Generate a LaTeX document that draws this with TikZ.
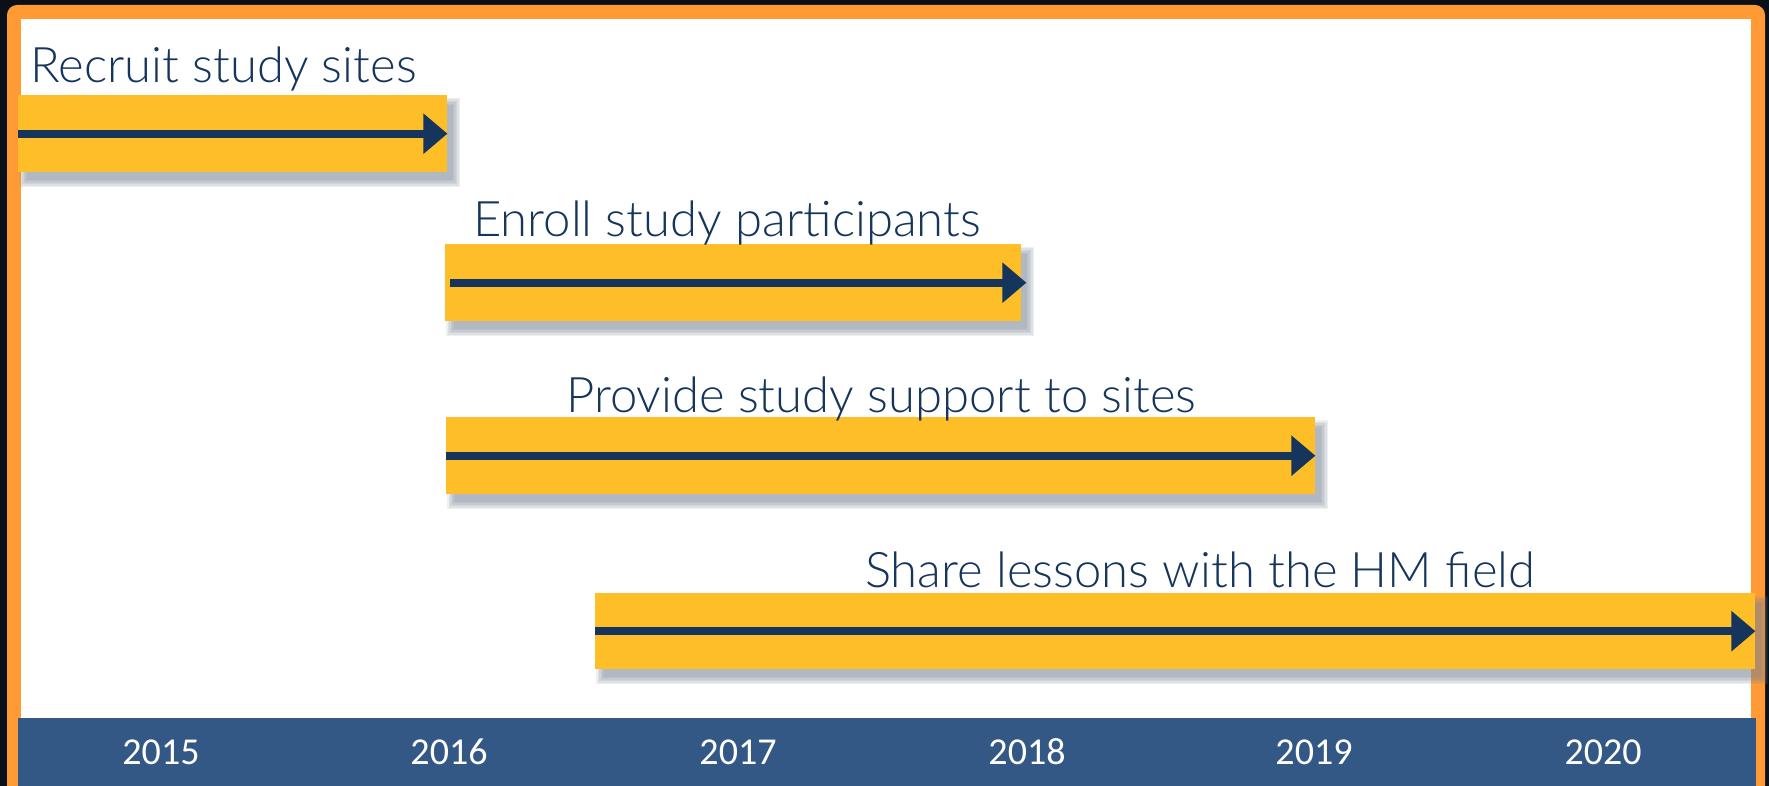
\documentclass[tikz,border=0pt]{standalone}
\usepackage{fontspec}
\setmainfont{Lato}[UprightFont=* Light]
\newfontfamily\yearfont{Carlito}
\usetikzlibrary{arrows.meta,calc}
\definecolor{bgdark}{HTML}{0A0F18}
\definecolor{frameorange}{HTML}{FF9A35}
\definecolor{baryellow}{HTML}{FEBE28}
\definecolor{navy}{HTML}{15355C}
\definecolor{axisblue}{HTML}{345886}
\definecolor{shadowc}{HTML}{7A8494}
\pgfdeclarelayer{back}
\pgfdeclarelayer{shade}
\pgfsetlayers{back,shade,main}
\tikzset{
  bar/.style={fill=baryellow, draw=none, inner sep=0pt, anchor=north west},
  task/.style={text=navy, anchor=base west, inner sep=0pt,
    font=\fontsize{49}{56}\selectfont},
  year/.style={text=white, anchor=center, inner sep=0pt,
    font=\yearfont\fontsize{38}{44}\selectfont},
  flow/.style={draw=navy, line width=8pt, -{Triangle[length=24pt,width=39pt]}},
  shadowpiece/.style={fill=shadowc, opacity=0.13}
}
\begin{document}
\begin{tikzpicture}[x=1pt,y=-1pt]
\useasboundingbox (0,0) rectangle (1769,786);
\begin{pgfonlayer}{back}
\fill[bgdark] (0,0) rectangle (1769,786);
\fill[frameorange, rounded corners=10pt] (7,5) rectangle (1765,820);
\fill[white] (21,19) rectangle (1751,786);
\end{pgfonlayer}
% bars
\node[bar, minimum width=429pt, minimum height=77pt] (b1) at (18,95) {};
\node[bar, minimum width=576pt, minimum height=77pt] (b2) at (445,244) {};
\node[bar, minimum width=869pt, minimum height=77pt] (b3) at (446,417) {};
\node[bar, minimum width=1160pt, minimum height=76pt] (b4) at (595,593) {};
% soft shadows
\begin{pgfonlayer}{shade}
\foreach \b in {b1,b2,b3,b4}{
  \foreach \s in {6,4.5,3,1.5,0,-1.5}{
    \fill[shadowpiece] ($(\b.north west)+(7-\s,9-\s)$) rectangle ($(\b.south east)+(7+\s,9+\s)$);
  }
}
\end{pgfonlayer}
% arrows
\coordinate (a2s) at ([xshift=5pt]b2.west);
\coordinate (a2e) at ([xshift=5pt]b2.east);
\draw[flow] (b1.west) -- (b1.east);
\draw[flow] (a2s) -- (a2e);
\draw[flow] (b3.west) -- (b3.east);
\draw[flow] (b4.west) -- (b4.east);
% labels
\node[task] (t1) at (30,83) {Recruit study sites};
\node[task] (t2) at (473,237) {Enroll study participants};
\node[task] (t3) at (566,412) {Provide study support to sites};
\node[task] (t4) at (865,587) {Share lessons with the HM field};
% axis
\fill[axisblue] (18,718) rectangle (1756,786);
\node[year] (y1) at (161,752) {2015};
\node[year] (y2) at (449,752) {2016};
\node[year] (y3) at (738,752) {2017};
\node[year] (y4) at (1027,752) {2018};
\node[year] (y5) at (1314,752) {2019};
\node[year] (y6) at (1603,752) {2020};
\end{tikzpicture}
\end{document}
